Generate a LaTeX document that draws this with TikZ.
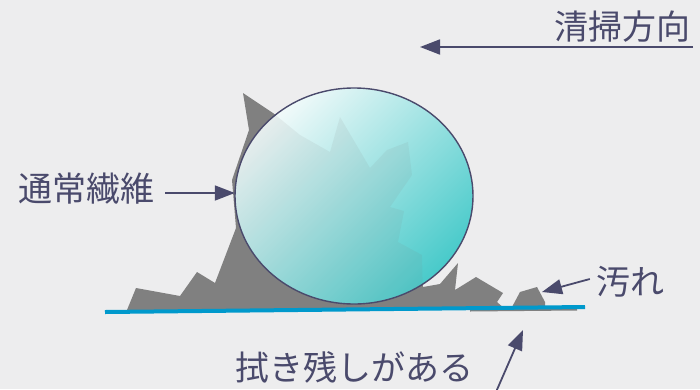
\documentclass[tikz,border=0pt]{standalone}
\usepackage{fontspec}
\newfontfamily\jpfont{Noto Sans CJK JP}
\usetikzlibrary{arrows.meta,shapes.geometric}
\definecolor{ink}{RGB}{74,74,108}
\definecolor{paper}{RGB}{237,237,238}
\definecolor{dirt}{RGB}{128,128,128}
\definecolor{floor}{RGB}{0,153,204}
\definecolor{teal1}{RGB}{242,250,250}
\definecolor{teal2}{RGB}{72,202,202}
\tikzset{
  lbl/.style={font=\jpfont\fontsize{34}{38}\selectfont,text=ink,inner sep=0pt},
  ptr/.style={draw=ink,line width=1.8pt,-{Triangle[length=20pt,width=15pt]}},
}
\begin{document}
\begin{tikzpicture}[x=1pt,y=-1pt]
  \fill[paper] (0,0) rectangle (700,389);
  \useasboundingbox (0,0) rectangle (700,389);
  \fill[dirt] (127,310) -- (136,288) -- (180,296) -- (197,272) -- (215,283) -- (236,228) -- (232,180) -- (249,130) -- (243,93) -- (273,113) -- (300,135) -- (330,152) -- (340,117) -- (370,168) -- (387,150) -- (408,142) -- (412,175) -- (390,207) -- (404,211) -- (398,242) -- (422,255) -- (423,287) -- (440,284) -- (458,263) -- (455,290) -- (476,277) -- (503,293) -- (497,302) -- (505,309) -- cycle;
  \fill[dirt] (512,307) -- (520,292) -- (537,287) -- (545,302) -- (545,307) -- cycle;
  \draw[dirt,line width=2pt] (470,310.5) -- (577,309.5);
  \node[ellipse,minimum width=238pt,minimum height=216pt,inner sep=0pt,shading=axis,top color=teal1,bottom color=teal2,shading angle=45] (fib) at (354,196) {};
  \begin{scope}
    \clip (354,196) ellipse [x radius=119,y radius=108];
    \fill[dirt,opacity=0.1] (232,180) -- (249,130) -- (243,93) -- (273,113) -- (300,135) -- (330,152) -- (340,117) -- (370,168) -- (387,150) -- (408,142) -- (412,175) -- (390,207) -- (404,211) -- (398,242) -- (422,255) -- (423,300) -- (232,310) -- cycle;
  \end{scope}
  \draw[ink,line width=1.4pt] (fib.center) ellipse [x radius=119,y radius=108];
  \draw[floor,line width=4pt] (105,312) -- (585,307);
  \node[lbl] (dir) at (622,27) {清掃方向};
  \coordinate (dirS) at (693,47);
  \coordinate (dirE) at (420,47);
  \draw[ptr] (dirS) -- (dirE);
  \node[lbl] (fiber) at (86,189) {通常繊維};
  \draw[ptr] ([xshift=11pt,yshift=-4pt]fiber.east) -- ([yshift=-4pt]fiber.east -| fib.west);
  \node[lbl] (dirtlbl) at (630,282) {汚れ};
  \coordinate (dirtE) at (542,292);
  \draw[ptr] ([xshift=-6pt,yshift=3pt]dirtlbl.west) -- (dirtE);
  \node[lbl] (wipe) at (354,367) {拭き残しがある};
  \coordinate (wipeS) at (496,392);
  \coordinate (wipeE) at (523,330);
  \draw[ptr] (wipeS) -- (wipeE);
\end{tikzpicture}
\end{document}
